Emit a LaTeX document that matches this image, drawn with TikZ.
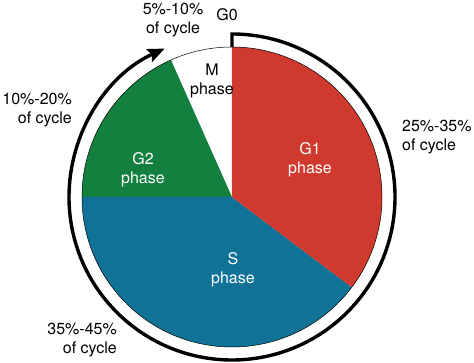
\documentclass[tikz,border=0pt]{standalone}
\usepackage{fontspec}
\setmainfont{TeX Gyre Heros}
\usepackage{tikz}
\usetikzlibrary{arrows.meta}
\definecolor{gonered}{RGB}{208,58,46}
\definecolor{gtwogreen}{RGB}{20,128,64}
\definecolor{sblue}{RGB}{16,114,150}
\tikzset{
  cyclearr/.style  = {-{Stealth[length=17pt,width=14pt,inset=3pt]},line width=3.4pt},
  pieedge/.style   = {black,line width=0.5pt},
  pctlabel/.style  = {font=\fontsize{16}{18.5}\selectfont,black,inner sep=1pt},
  phaselabel/.style= {font=\fontsize{16}{18.5}\selectfont,align=center}
}
\begin{document}
\begin{tikzpicture}[x=1pt,y=1pt]
  \useasboundingbox (-232,197) rectangle (242,-166);
  \coordinate (c) at (0,0);
  \fill[white]     (c) -- (90:150)  arc[start angle=90, end angle=114,radius=150] -- cycle;
  \fill[gtwogreen] (c) -- (114:150) arc[start angle=114,end angle=180,radius=150] -- cycle;
  \fill[sblue]     (c) -- (180:150) arc[start angle=180,end angle=323,radius=150] -- cycle;
  \fill[gonered]   (c) -- (-37:150) arc[start angle=-37,end angle=90, radius=150] -- cycle;
  \draw[pieedge] (c) circle (150);
  \draw[cyclearr,line join=miter] (90:150) -- (90:163)
        arc[start angle=90,end angle=-245.6,radius=163];
  \node[phaselabel]       (m)  at (-20,116) {M\\phase};
  \node[phaselabel,white] (g2) at (-89,27)  {G2\\phase};
  \node[phaselabel,white] (g1) at (78,37)   {G1\\phase};
  \node[phaselabel,white] (s)  at (1,-73)   {S\\phase};
  \node[pctlabel]                     (g0)   at (-5,182)    {G0};
  \node[pctlabel,align=center]        (pm)   at (-59,177)   {5\%-10\%\\of cycle};
  \node[pctlabel,align=right,anchor=east] (pg2) at (-159,87) {10\%-20\%\\of cycle};
  \node[pctlabel,align=left,anchor=west]  (pg1) at (169,60)  {25\%-35\%\\of cycle};
  \node[pctlabel,align=right,anchor=east] (ps)  at (-114,-143) {35\%-45\%\\of cycle};
\end{tikzpicture}
\end{document}
